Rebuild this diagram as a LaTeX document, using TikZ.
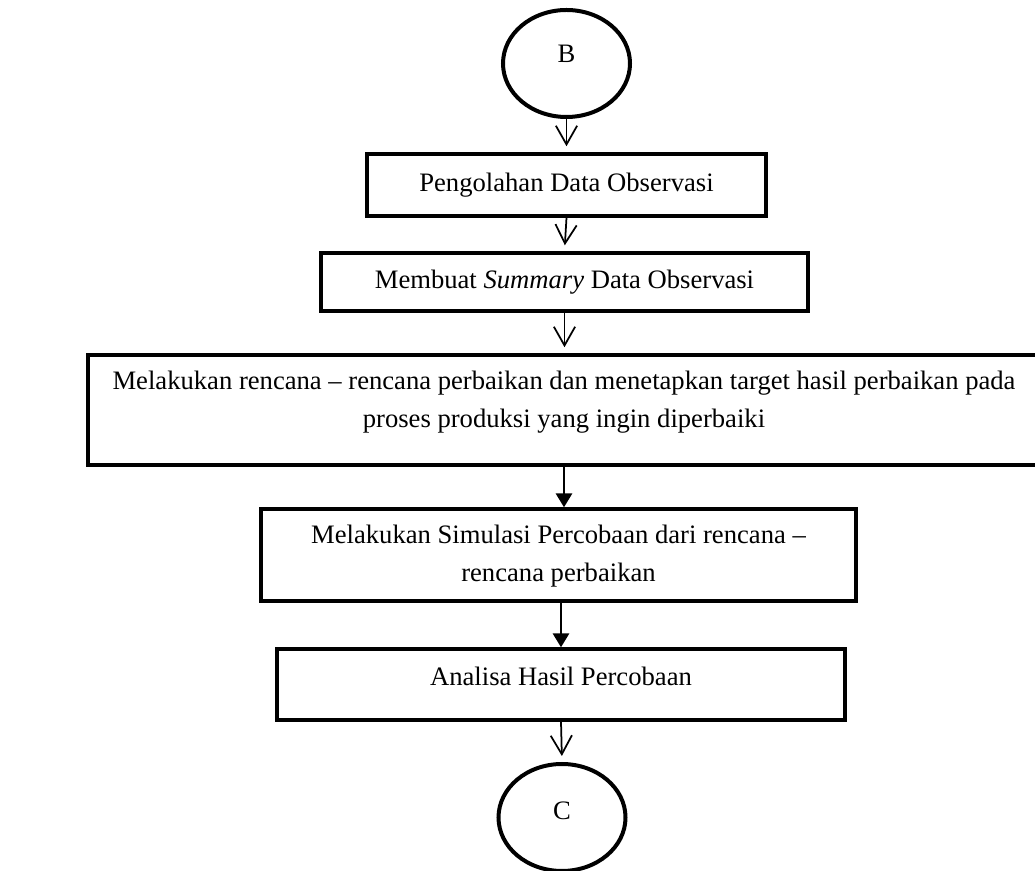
\documentclass[tikz,border=0pt]{standalone}
\usepackage{fontspec}
\setmainfont{Liberation Serif}
\usetikzlibrary{arrows.meta,shapes.geometric}
\begin{document}
\begin{tikzpicture}[x=0.4pt,y=-0.4pt,font=\fontsize{10.65}{15.2}\selectfont,
	kotak/.style={draw,line width=1.4pt,rectangle,inner sep=0pt},
	bulat/.style={draw,line width=1.6pt,ellipse,minimum width=50.8pt,minimum height=42.8pt,inner sep=0pt},
	panah/.style={line width=0.7pt,shorten >=2.4pt,-{Straight Barb[length=7.5pt,width=8.5pt]}},
	panahisi/.style={line width=0.7pt,-{Triangle[length=5.5pt,width=6.5pt]}}]
	\def\naik#1#2{\raisebox{#1}[\height][\depth]{\begin{tabular}{@{}c@{}}#2\end{tabular}}}
	\useasboundingbox (0,0) rectangle (1035,871);
	%Konektor dan kotak proses:
	\node[bulat] (B) at (566.5,63.5) {\raisebox{7.8pt}{B}};
	\node[kotak,minimum width=159.6pt,minimum height=24.8pt] (p1) at (566.5,185) {Pengolahan Data Observasi};
	\node[kotak,minimum width=194.8pt,minimum height=23.2pt] (p2) at (564.5,282) {Membuat \textit{Summary} Data Observasi};
	\node[kotak,minimum width=380.8pt,minimum height=44pt] (p3) at (564,410)
		{\naik{3.6pt}{Melakukan rencana -- rencana perbaikan dan menetapkan target hasil perbaikan pada\\ proses produksi yang ingin diperbaiki}};
	\node[kotak,minimum width=238pt,minimum height=36.8pt] (p4) at (558.5,555)
		{\naik{0pt}{Melakukan Simulasi Percobaan dari rencana --\\ rencana perbaikan}};
	\node[kotak,minimum width=227.2pt,minimum height=28.4pt] (p5) at (561,684.5) {\naik{2.5pt}{Analisa Hasil Percobaan}};
	\node[bulat] (C) at (562,817.5) {\raisebox{5.4pt}{C}};
	%Panah:
	\draw[panah] (B.south)--(p1.north);
	\draw[panah] (p1.south)--(p2.north);
	\draw[panah] (p2.south)--(p2.south |- p3.north);
	\draw[panahisi] (p3.south)--(p3.south |- p4.north);
	\draw[panahisi] (p5.north |- p4.south)--(p5.north);
	\draw[panah] (p5.south)--(C.north);
\end{tikzpicture}
\end{document}
